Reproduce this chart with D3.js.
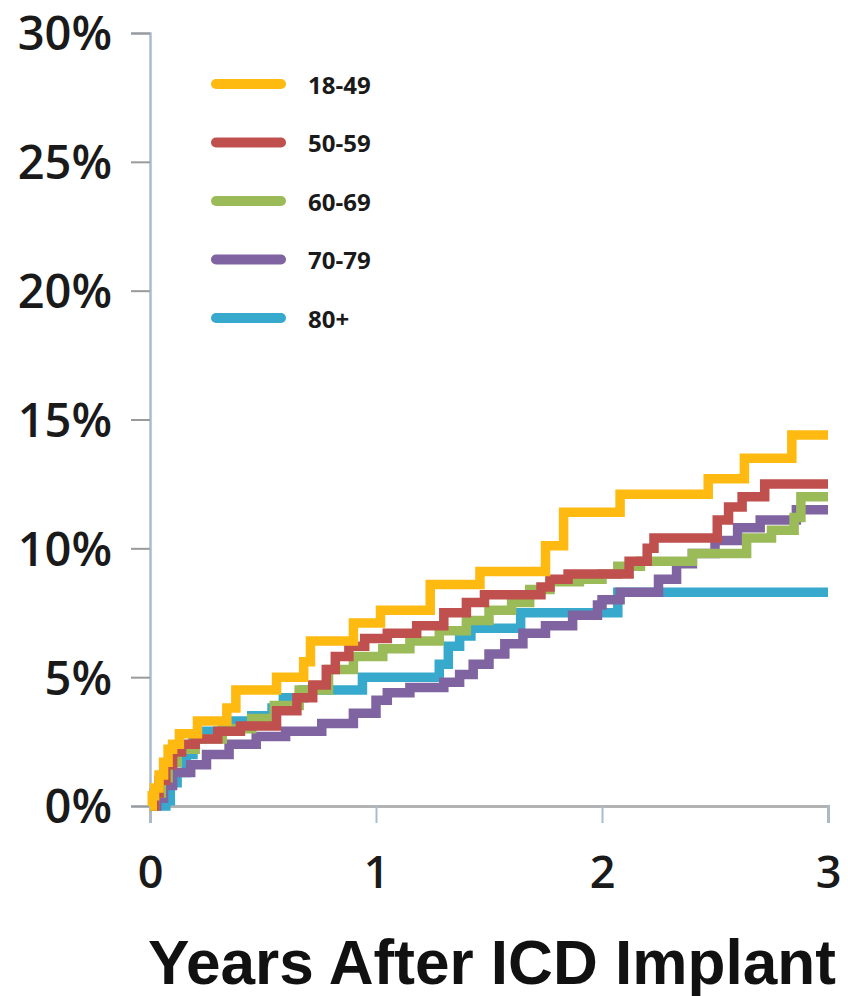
<!DOCTYPE html>
<html>
<head>
<meta charset="utf-8">
<script src="https://cdn.jsdelivr.net/npm/d3@7"></script>
<style>
  html, body { margin: 0; padding: 0; background: #fff; }
  svg { display: block; }
</style>
</head>
<body>
<svg id="chart" width="848" height="996"></svg>
<script>
// Cumulative incidence (%) by age group, step points as [years, percent]
const ageGroups = ["18-49", "50-59", "60-69", "70-79", "80+"];
const groupColors = ["#FFBA12", "#C0504D", "#9BBB59", "#8064A2", "#36A9CC"];

const series1849 = [[0,0],[0.01,0.4],[0.02,0.7],[0.04,1.2],[0.06,1.7],[0.08,2.2],[0.1,2.4],[0.13,2.8],[0.21,3.3],[0.34,3.8],[0.38,4.5],[0.56,5.0],[0.68,5.6],[0.71,6.4],[0.9,7.1],[1.02,7.6],[1.24,8.6],[1.46,9.1],[1.75,10.1],[1.83,11.4],[2.08,12.1],[2.47,12.7],[2.63,13.5],[2.84,14.4],[3.0,14.4]];
const series5059 = [[0,0],[0.02,0.5],[0.04,1.0],[0.07,1.6],[0.1,2.1],[0.14,2.4],[0.2,2.6],[0.3,2.9],[0.4,3.1],[0.56,3.7],[0.65,4.2],[0.72,4.7],[0.78,5.3],[0.82,5.8],[0.88,6.2],[0.95,6.5],[1.05,6.7],[1.18,7.0],[1.3,7.5],[1.4,7.9],[1.48,8.2],[1.73,8.5],[1.77,8.8],[1.85,9.0],[2.12,9.5],[2.2,10.0],[2.23,10.4],[2.51,11.1],[2.56,11.6],[2.62,12.0],[2.72,12.5],[3.0,12.5]];
const series6069 = [[0,0],[0.02,0.5],[0.05,1.1],[0.08,1.7],[0.12,2.2],[0.2,2.6],[0.32,3.0],[0.45,3.4],[0.55,3.9],[0.66,4.5],[0.79,5.3],[0.9,5.8],[1.03,6.1],[1.15,6.4],[1.28,6.8],[1.4,7.2],[1.5,7.6],[1.6,7.9],[1.68,8.4],[1.77,8.7],[1.9,8.8],[2.0,9.0],[2.07,9.3],[2.17,9.5],[2.4,9.8],[2.64,10.4],[2.75,10.7],[2.85,11.2],[2.88,12.0],[3.0,12.0]];
const series7079 = [[0,0],[0.03,0.3],[0.06,0.8],[0.1,1.3],[0.18,1.6],[0.25,2.0],[0.35,2.4],[0.47,2.7],[0.6,2.9],[0.76,3.2],[0.9,3.6],[1.0,4.1],[1.05,4.4],[1.15,4.6],[1.3,4.8],[1.37,5.1],[1.43,5.5],[1.5,5.9],[1.57,6.3],[1.65,6.7],[1.75,7.0],[1.87,7.4],[1.98,7.8],[2.0,8.0],[2.08,8.3],[2.25,8.8],[2.33,9.4],[2.4,9.8],[2.5,10.3],[2.6,10.8],[2.7,11.1],[2.86,11.5],[3.0,11.5]];
const series80 = [[0,0],[0.07,0.2],[0.09,0.9],[0.12,1.3],[0.16,2.0],[0.19,2.6],[0.23,2.9],[0.37,3.3],[0.45,3.5],[0.54,3.8],[0.59,4.2],[0.68,4.5],[0.94,5.0],[1.28,5.5],[1.32,6.2],[1.37,6.6],[1.42,6.9],[1.64,7.5],[2.07,8.3],[3.0,8.3]];

const allSeries = [series1849, series5059, series6069, series7079, series80];

const yTicks = [0, 5, 10, 15, 20, 25, 30];
const xTicks = [0, 1, 2, 3];
const xTitle = "Years After ICD Implant";

const svg = d3.select("#chart");
const x = d3.scaleLinear().domain([0, 3]).range([150, 828]);
const y = d3.scaleLinear().domain([0, 30]).range([806, 33]);

// Y axis
const yAxis = svg.append("g")
  .attr("transform", `translate(${x(0)},0)`)
  .call(d3.axisLeft(y).tickValues(yTicks).tickFormat(d => d + "%").tickSize(19).tickPadding(19));
yAxis.select(".domain").attr("stroke", "#a9bccd").attr("stroke-width", 2.5);
yAxis.selectAll(".tick line").attr("stroke", "#9a9a9a").attr("stroke-width", 2);
yAxis.selectAll(".tick text")
  .attr("font-family", "'Open Sans', sans-serif").attr("font-weight", 600)
  .attr("font-size", 47).attr("fill", "#1a1a1a").attr("dy", "0.36em");

// X axis
const xAxis = svg.append("g")
  .attr("transform", `translate(0,${y(0)})`)
  .call(d3.axisBottom(x).tickValues(xTicks).tickFormat(d3.format("d")).tickSize(17).tickPadding(33));
xAxis.select(".domain").attr("stroke", "#b3b3b3").attr("stroke-width", 3);
xAxis.selectAll(".tick line").attr("stroke", "#a9bccd").attr("stroke-width", 2);
xAxis.selectAll(".tick text")
  .attr("font-family", "'Open Sans', sans-serif").attr("font-weight", 600)
  .attr("font-size", 45).attr("fill", "#1a1a1a");

// Step curves
const line = d3.line()
  .x(d => x(d[0]))
  .y(d => y(d[1]))
  .curve(d3.curveStepAfter);

svg.append("g").selectAll("path")
  .data(allSeries.map((s, i) => ({ s, i })).reverse())
  .join("path")
  .attr("d", d => line(d.s))
  .attr("fill", "none")
  .attr("stroke", d => groupColors[d.i])
  .attr("stroke-width", 9.5)
  .attr("stroke-linejoin", "miter");

// Legend
const legend = svg.append("g").attr("transform", "translate(213,84)");
const items = legend.selectAll("g").data(ageGroups).join("g")
  .attr("transform", (d, i) => `translate(0,${i * 58.5})`);
items.append("line")
  .attr("x1", 3).attr("x2", 68).attr("y1", 0).attr("y2", 0)
  .attr("stroke", (d, i) => groupColors[i])
  .attr("stroke-width", 10).attr("stroke-linecap", "round");
items.append("text")
  .attr("x", 95).attr("y", 1).attr("dy", "0.36em")
  .attr("font-family", "'Open Sans', sans-serif").attr("font-weight", 700)
  .attr("font-size", 24).attr("fill", "#1a1a1a")
  .text(d => d);

// Axis title
const title = svg.append("text")
  .attr("x", 148).attr("y", 984)
  .attr("font-family", "'Liberation Sans', Arial, sans-serif").attr("font-weight", 700)
  .attr("font-size", 52).attr("fill", "#111")
  .text(xTitle);
const w = title.node().getComputedTextLength();
title.attr("font-size", 52 * 688 / w);
</script>
</body>
</html>
